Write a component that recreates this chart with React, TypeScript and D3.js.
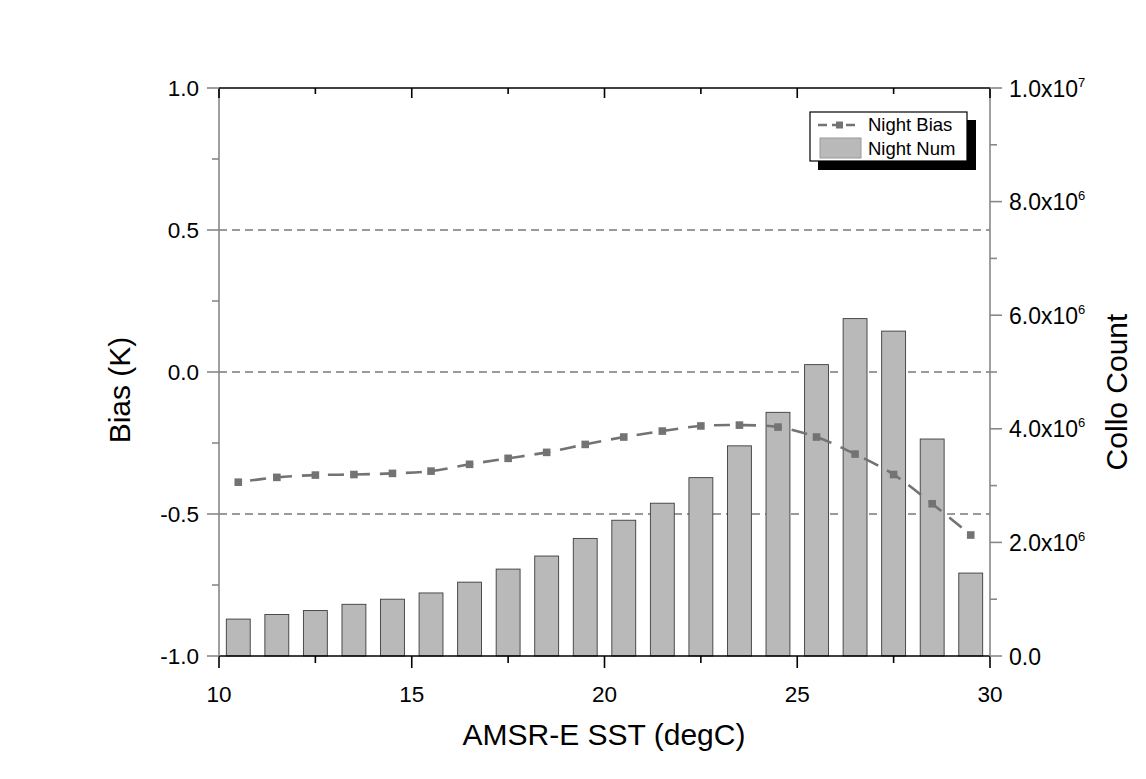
import React from "react";
import * as d3 from "d3";

const binCenters = [10.5, 11.5, 12.5, 13.5, 14.5, 15.5, 16.5, 17.5, 18.5, 19.5, 20.5, 21.5, 22.5, 23.5, 24.5, 25.5, 26.5, 27.5, 28.5, 29.5];
const nightNum = [0.65e6, 0.73e6, 0.8e6, 0.91e6, 1.0e6, 1.11e6, 1.3e6, 1.53e6, 1.76e6, 2.07e6, 2.39e6, 2.69e6, 3.14e6, 3.7e6, 4.29e6, 5.13e6, 5.94e6, 5.72e6, 3.82e6, 1.46e6];
const nightBias = [-0.388, -0.371, -0.363, -0.361, -0.357, -0.349, -0.325, -0.304, -0.283, -0.255, -0.229, -0.208, -0.19, -0.187, -0.194, -0.229, -0.289, -0.361, -0.464, -0.574];
const xTicks = [10, 15, 20, 25, 30];
const xMinorTicks = [12.5, 17.5, 22.5, 27.5];
const leftTicks = [-1.0, -0.5, 0.0, 0.5, 1.0];
const leftMinorTicks = [-0.75, -0.25, 0.25, 0.75];
const gridValues = [-0.5, 0.0, 0.5];
const rightTickMantissa = ["0.0", "2.0", "4.0", "6.0", "8.0", "1.0"];
const rightTickExp = ["", "6", "6", "6", "6", "7"];
const rightTicks = [0, 2e6, 4e6, 6e6, 8e6, 1e7];
const rightMinorTicks = [1e6, 3e6, 5e6, 7e6, 9e6];

const FONT = "'Liberation Sans', Arial, sans-serif";

export default function App() {
  const x = d3.scaleLinear().domain([10, 30]).range([219, 990]);
  const yL = d3.scaleLinear().domain([-1, 1]).range([656, 88]);
  const yR = d3.scaleLinear().domain([0, 1e7]).range([656, 88]);
  const barW = x(10.62) - x(10);
  const lineGen = d3
    .line<number>()
    .x((_, i) => x(binCenters[i]))
    .y((d) => yL(d))
    .curve(d3.curveCatmullRom.alpha(0.5));
  const linePath = lineGen(nightBias) || "";
  const lineColor = "#737373";
  const barFill = "#b9b9b9";

  return (
    <svg width={1146} height={779} style={{ position: "absolute", left: 0, top: 0, background: "#fff" }} fontFamily={FONT}>
      <rect x={0} y={0} width={1146} height={779} fill="#fff" />
      {gridValues.map((v) => (
        <line key={v} x1={x(10)} x2={x(30)} y1={yL(v)} y2={yL(v)} stroke="#7a7a7a" strokeWidth={1.6} strokeDasharray="8,5" />
      ))}
      {binCenters.map((c, i) => (
        <rect
          key={c}
          x={x(c) - barW / 2}
          y={yR(nightNum[i])}
          width={barW}
          height={yR(0) - yR(nightNum[i])}
          fill={barFill}
          stroke="#3c3c3c"
          strokeWidth={0.9}
        />
      ))}
      <path d={linePath} fill="none" stroke={lineColor} strokeWidth={2.6} strokeDasharray="16,10" strokeDashoffset={-12} />
      {binCenters.map((c, i) => (
        <rect key={"m" + c} x={x(c) - 3.8} y={yL(nightBias[i]) - 3.8} width={7.6} height={7.6} fill={lineColor} />
      ))}
      <line x1={x(10)} x2={x(30)} y1={88} y2={88} stroke="#000" strokeWidth={1.6} />
      <line x1={x(10)} x2={x(30)} y1={656} y2={656} stroke="#000" strokeWidth={1.6} />
      <line x1={x(10)} x2={x(10)} y1={88} y2={656} stroke="#888" strokeWidth={1.6} />
      <line x1={x(30)} x2={x(30)} y1={88} y2={656} stroke="#888" strokeWidth={1.6} />
      {xTicks.map((t) => (
        <g key={"xt" + t}>
          <line x1={x(t)} x2={x(t)} y1={656} y2={668} stroke="#000" strokeWidth={1.6} />
          <line x1={x(t)} x2={x(t)} y1={88} y2={98} stroke="#000" strokeWidth={1.6} />
          <text x={x(t)} y={702} fontSize={22.5} textAnchor="middle" fill="#000">{t}</text>
        </g>
      ))}
      {xMinorTicks.map((t) => (
        <g key={"xm" + t}>
          <line x1={x(t)} x2={x(t)} y1={656} y2={663} stroke="#000" strokeWidth={1.6} />
          <line x1={x(t)} x2={x(t)} y1={88} y2={94} stroke="#000" strokeWidth={1.6} />
        </g>
      ))}
      {leftTicks.map((t) => (
        <g key={"lt" + t}>
          <line x1={207} x2={219} y1={yL(t)} y2={yL(t)} stroke="#888" strokeWidth={1.6} />
          <text x={199} y={yL(t) + 8} fontSize={22.5} textAnchor="end" fill="#000">{t.toFixed(1)}</text>
        </g>
      ))}
      {leftMinorTicks.map((t) => (
        <line key={"lm" + t} x1={212} x2={219} y1={yL(t)} y2={yL(t)} stroke="#888" strokeWidth={1.6} />
      ))}
      {rightTicks.map((t, i) => (
        <g key={"rt" + t}>
          <line x1={990} x2={1002} y1={yR(t)} y2={yR(t)} stroke="#888" strokeWidth={1.6} />
          <text x={1009} y={yR(t) + 8.5} fontSize={23} fill="#000">
            {rightTickExp[i] ? rightTickMantissa[i] + "x10" : rightTickMantissa[i]}
            {rightTickExp[i] ? (
              <tspan fontSize={13} dy={-10}>{rightTickExp[i]}</tspan>
            ) : null}
          </text>
        </g>
      ))}
      {rightMinorTicks.map((t) => (
        <line key={"rm" + t} x1={990} x2={997} y1={yR(t)} y2={yR(t)} stroke="#888" strokeWidth={1.6} />
      ))}
      <text x={604} y={745} fontSize={30} textAnchor="middle" fill="#000">AMSR-E SST (degC)</text>
      <text transform="translate(130,390) rotate(-90)" fontSize={30} textAnchor="middle" fill="#000">Bias (K)</text>
      <text transform="translate(1127,392) rotate(-90)" fontSize={30} textAnchor="middle" fill="#000">Collo Count</text>
      <rect x={818} y={120} width={158} height={50} fill="#000" />
      <rect x={810} y={112} width={157} height={49} fill="#fff" stroke="#000" strokeWidth={1.2} />
      <line x1={818} x2={858} y1={125} y2={125} stroke={lineColor} strokeWidth={2.6} strokeDasharray="9,5" />
      <rect x={836} y={121.5} width={7} height={7} fill={lineColor} />
      <text x={868} y={131} fontSize={18.5} fill="#000">Night Bias</text>
      <rect x={820} y={138} width={41} height={20} fill={barFill} stroke="#999" strokeWidth={1} />
      <text x={868} y={155} fontSize={18.5} fill="#000">Night Num</text>
    </svg>
  );
}
